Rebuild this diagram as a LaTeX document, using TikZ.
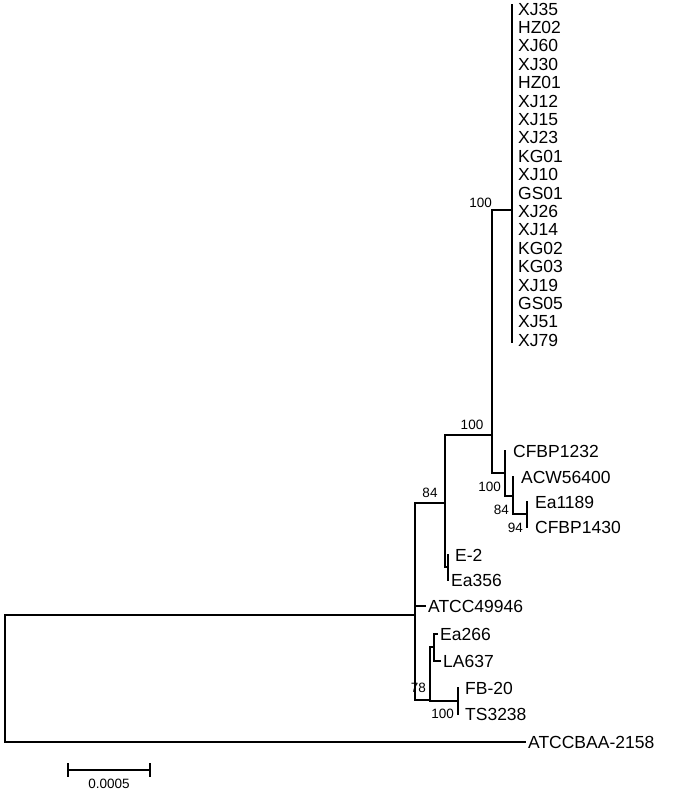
\documentclass[tikz,border=0pt]{standalone}
\usepackage{fontspec}
\setmainfont{Liberation Sans}
\begin{document}
\begin{tikzpicture}[x=1pt,y=-1pt,line width=2.3pt,line cap=rect,
  leaf/.style={anchor=west,inner sep=2pt,font=\fontsize{17.5}{17.5}\selectfont},
  boot/.style={font=\fontsize{13.5}{13.5}\selectfont,inner sep=1pt}]
  \useasboundingbox (0,0) rectangle (685,792);

  % big clade
  \foreach \n [count=\i from 0] in {XJ35,HZ02,XJ60,XJ30,HZ01,XJ12,XJ15,XJ23,KG01,XJ10,GS01,XJ26,XJ14,KG02,KG03,XJ19,GS05,XJ51,XJ79}
    \node[leaf] at (515,{9+\i*18.4}) {\n};
  \draw (512,5) -- (512,342);
  \node[boot,anchor=south east] at (494,210) {100};

  % tip nodes
  \node[leaf] (cfbp1232) at (510,451) {CFBP1232};
  \node[leaf] (acw) at (518,477) {ACW56400};
  \node[leaf] (ea1189) at (532,502) {Ea1189};
  \node[leaf] (cfbp1430) at (532,527) {CFBP1430};
  \node[leaf] (e2) at (452,555) {E-2};
  \node[leaf] (ea356) at (448,580) {Ea356};
  \node[leaf] (atcc) at (425,606) {ATCC49946};
  \node[leaf] (ea266) at (437,634) {Ea266};
  \node[leaf] (la637) at (440,661) {LA637};
  \node[leaf] (fb20) at (462,688) {FB-20};
  \node[leaf] (ts) at (462,714) {TS3238};
  \node[leaf] (baa) at (525,742) {ATCCBAA-2158};

  % inner coordinates
  \coordinate (c) at (527,514);
  \coordinate (b) at (513,496);
  \coordinate (a) at (505,473);
  \coordinate (p) at (492,322);
  \coordinate (d) at (445,503);
  \coordinate (k) at (448,567);
  \coordinate (r) at (415,615);
  \coordinate (l) at (430,700);
  \coordinate (m) at (434,647);
  \coordinate (f) at (458,701);

  % branches
  \draw (c |- ea1189.west) -- (c |- cfbp1430.west);
  \draw (b |- acw.west) -- (b |- c) -- (c);
  \draw (a |- cfbp1232.west) -- (a |- b) -- (b);
  \draw (p |- 0,210) -- (512,210);
  \draw (p |- 0,210) -- (p |- a) -- (a);
  \draw (d |- 0,435) -- (p |- 0,435);
  \draw (d |- 0,435) -- (d |- k) -- (k);
  \draw (k |- e2.west) -- (k |- ea356.west);
  \draw (r |- d) -- (d);
  \draw (r |- d) -- (r |- l) -- (l);
  \draw (r |- atcc.west) -- (atcc.west);
  \draw (m |- ea266.west) -- (ea266.west);
  \draw (m |- ea266.west) -- (m |- la637.west) -- (la637.west);
  \draw (l |- m) -- (m);
  \draw (l |- m) -- (l |- f) -- (f);
  \draw (f |- fb20.west) -- (f |- ts.west);
  \draw (5,615) -- (r);
  \draw (5,615) -- (5,742) -- (baa.west);

  % bootstrap values
  \node[boot,anchor=south] at (472,432) {100};
  \node[boot,anchor=east] at (503,487) {100};
  \node[boot,anchor=south] at (430,500) {84};
  \node[boot,anchor=east] at (511,510) {84};
  \node[boot,anchor=east] at (525,528) {94};
  \node[boot,anchor=east] at (428,688) {78};
  \node[boot,anchor=east] at (456,714) {100};

  % scale bar
  \draw (68,770) -- (150,770);
  \draw (68,764) -- (68,776);
  \draw (150,764) -- (150,776);
  \node[boot] at (109,784) {0.0005};
\end{tikzpicture}
\end{document}
